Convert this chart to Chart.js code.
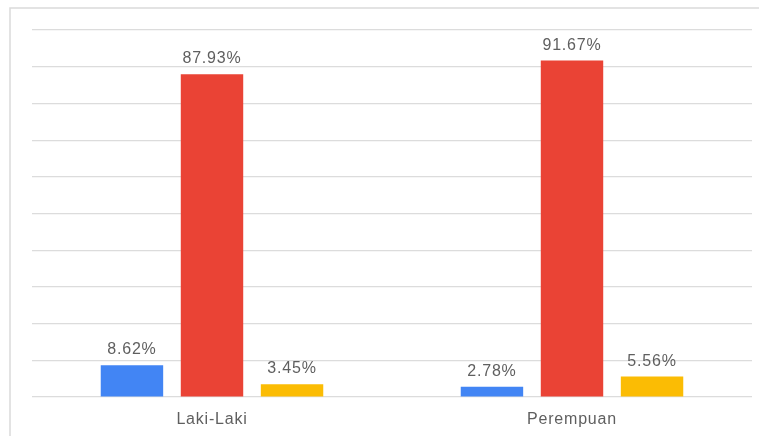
<!DOCTYPE html>
<html>
<head>
<meta charset="utf-8">
<style>
  html, body { margin: 0; padding: 0; background: #ffffff; }
  #wrap { position: relative; width: 759px; height: 436px; }
</style>
<script src="https://cdn.jsdelivr.net/npm/chart.js@4"></script>
</head>
<body>
<div id="wrap"><canvas id="c" width="759" height="436"></canvas></div>
<script>
const categories = ["Laki-Laki", "Perempuan"];
const seriesNames = ["Seri 1", "Seri 2", "Seri 3"];
const series1 = [8.62, 2.78];
const series2 = [87.93, 91.67];
const series3 = [3.45, 5.56];
const yTicks = [0, 10, 20, 30, 40, 50, 60, 70, 80, 90, 100];

const colors = ["#4285F4", "#EA4335", "#FBBC04"];
const textColor = "#5f5f5f";

const framePlugin = {
  id: "frame",
  beforeDraw(chart) {
    const ctx = chart.ctx;
    ctx.save();
    ctx.fillStyle = "#ffffff";
    ctx.fillRect(0, 0, chart.width, chart.height);
    ctx.strokeStyle = "#dadada";
    ctx.lineWidth = 1.5;
    ctx.strokeRect(10, 8, chart.width + 20, chart.height + 20);
    ctx.restore();
    ctx.letterSpacing = "0.8px";
  }
};

const valueLabels = {
  id: "valueLabels",
  afterDatasetsDraw(chart) {
    const ctx = chart.ctx;
    ctx.save();
    ctx.letterSpacing = "0.8px";
    ctx.font = "16px 'Liberation Sans', Arial, sans-serif";
    ctx.fillStyle = textColor;
    ctx.textAlign = "center";
    ctx.textBaseline = "alphabetic";
    chart.data.datasets.forEach((ds, di) => {
      const meta = chart.getDatasetMeta(di);
      meta.data.forEach((bar, i) => {
        const v = ds.data[i];
        ctx.fillText(v.toFixed(2) + "%", bar.x, bar.y - 11);
      });
    });
    ctx.restore();
  }
};

new Chart(document.getElementById("c"), {
  type: "bar",
  data: {
    labels: categories,
    datasets: [
      { label: seriesNames[0], data: series1, backgroundColor: colors[0] },
      { label: seriesNames[1], data: series2, backgroundColor: colors[1] },
      { label: seriesNames[2], data: series3, backgroundColor: colors[2] }
    ]
  },
  options: {
    responsive: false,
    animation: false,
    events: [],
    layout: { padding: { left: 32, right: 7, top: 30, bottom: 0 } },
    datasets: { bar: { categoryPercentage: 0.667, barPercentage: 0.78 } },
    plugins: { legend: { display: false }, tooltip: { enabled: false } },
    scales: {
      x: {
        grid: { display: false, drawTicks: false },
        border: { display: false },
        ticks: {
          color: textColor,
          font: { family: "'Liberation Sans', Arial, sans-serif", size: 16 },
          padding: 13
        },
        afterFit(scale) { scale.height = 39; }
      },
      y: {
        min: 0,
        max: 100,
        afterBuildTicks(scale) { scale.ticks = yTicks.map(v => ({ value: v })); },
        ticks: { display: false },
        grid: { color: "#dcdcdc", lineWidth: 1.2, drawTicks: false },
        border: { display: false },
        afterFit(scale) { scale.width = 0; }
      }
    }
  },
  plugins: [framePlugin, valueLabels]
});
</script>
</body>
</html>
